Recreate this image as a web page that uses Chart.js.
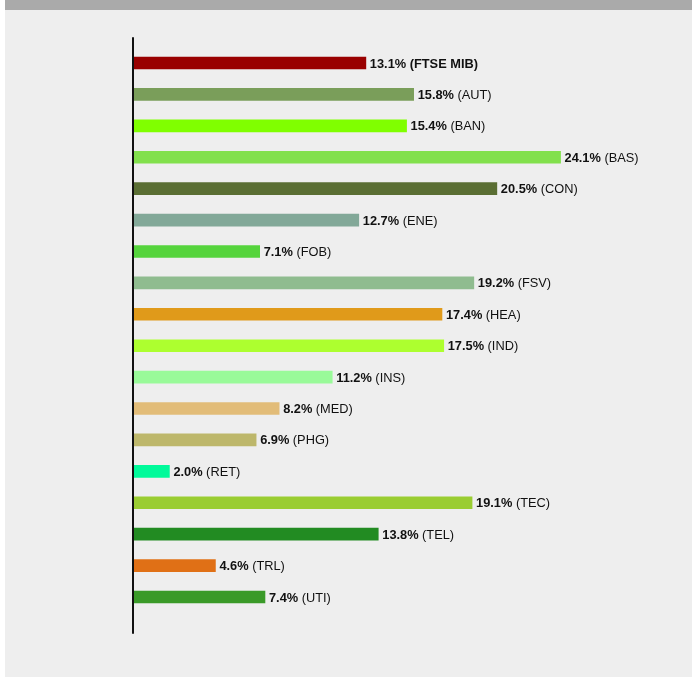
<!DOCTYPE html>
<html>
<head>
    <title>FTSE MIB settori</title>
    <script src="https://cdn.jsdelivr.net/npm/chart.js@4/dist/chart.umd.min.js"></script>
</head>
<body>
    <div class="panel"></div>
    <canvas id="myChart" width="692" height="677"></canvas>
    <script>
        // Dati del grafico
        const categorie = ['FTSE MIB', 'AUT', 'BAN', 'BAS', 'CON', 'ENE', 'FOB', 'FSV', 'HEA', 'IND', 'INS', 'MED', 'PHG', 'RET', 'TEC', 'TEL', 'TRL', 'UTI'];
        const valori = [13.1, 15.8, 15.4, 24.1, 20.5, 12.7, 7.1, 19.2, 17.4, 17.5, 11.2, 8.2, 6.9, 2.0, 19.1, 13.8, 4.6, 7.4];
        const colori = ['#990000', '#7a9e5a', '#80ff00', '#82e04c', '#5a6e33', '#82a898', '#55d43c', '#8fbc8f', '#e09a1a', '#adff2f', '#99fa99', '#e2bc78', '#bdb76b', '#00fa9a', '#9acd32', '#228b22', '#e07016', '#3a9a28'];

        // Etichette: valore in grassetto + nome settore
        const etichette = {
            id: 'etichette',
            afterDatasetsDraw(chart) {
                const ctx = chart.ctx;
                const meta = chart.getDatasetMeta(0);
                ctx.save();
                ctx.textBaseline = 'middle';
                ctx.fillStyle = '#111';
                meta.data.forEach((bar, i) => {
                    const testoValore = valori[i].toFixed(1) + '%';
                    const nome = ' (' + categorie[i] + ')';
                    const x = bar.x + 4;
                    const y = bar.y + 1;
                    ctx.font = 'bold 12.8px "Liberation Sans", Arial, sans-serif';
                    ctx.fillText(testoValore, x, y);
                    const w = ctx.measureText(testoValore).width;
                    if (i === 0) {
                        ctx.fillText(nome, x + w, y);
                    } else {
                        ctx.font = '12.8px "Liberation Sans", Arial, sans-serif';
                        ctx.fillText(nome, x + w, y);
                    }
                });
                ctx.restore();
            }
        };

        // Linea verticale dell'asse
        const lineaAsse = {
            id: 'lineaAsse',
            afterDraw(chart) {
                const ctx = chart.ctx;
                const a = chart.chartArea;
                ctx.save();
                ctx.strokeStyle = '#111';
                ctx.lineWidth = 2;
                ctx.beginPath();
                ctx.moveTo(a.left - 1, a.top - 10);
                ctx.lineTo(a.left - 1, a.bottom + 21);
                ctx.stroke();
                ctx.restore();
            }
        };

        new Chart(document.getElementById('myChart'), {
            type: 'bar',
            data: {
                labels: categorie,
                datasets: [{
                    data: valori,
                    backgroundColor: colori,
                    barThickness: 12,
                    borderWidth: 0
                }]
            },
            options: {
                indexAxis: 'y',
                responsive: false,
                animation: false,
                layout: {
                    padding: { left: 134, top: 47.3, right: 27, bottom: 64.3 }
                },
                scales: {
                    x: { display: false, min: 0, max: 30 },
                    y: { display: false }
                },
                plugins: {
                    legend: { display: false },
                    tooltip: { enabled: false }
                }
            },
            plugins: [etichette, lineaAsse]
        });
    </script>
    <style>
        body {
            margin: 0;
            padding: 0;
            background-color: #ffffff;
            overflow: hidden;
        }
        .panel {
            position: absolute;
            top: 0;
            left: 5px;
            width: 687px;
            height: 677px;
            background-color: #eeeeee;
            border-top: 10px solid #aaaaaa;
            box-sizing: border-box;
        }
        #myChart {
            position: absolute;
            top: 0;
            left: 0;
        }
    </style>
</body>
</html>
